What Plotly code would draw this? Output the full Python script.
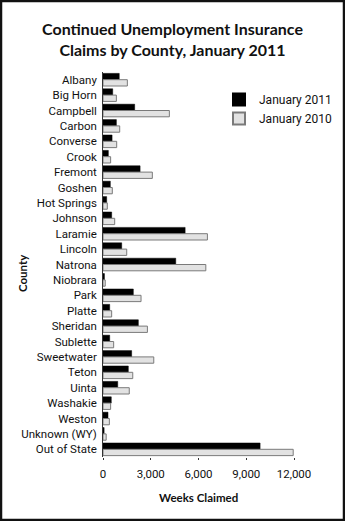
import plotly.graph_objects as go

counties = ["Albany", "Big Horn", "Campbell", "Carbon", "Converse", "Crook", "Fremont",
            "Goshen", "Hot Springs", "Johnson", "Laramie", "Lincoln", "Natrona", "Niobrara",
            "Park", "Platte", "Sheridan", "Sublette", "Sweetwater", "Teton", "Uinta",
            "Washakie", "Weston", "Unknown (WY)", "Out of State"]
jan_2011 = [1020, 610, 1990, 840, 570, 335, 2330, 460, 230, 545, 5160, 1175, 4570, 90,
            1905, 420, 2220, 420, 1800, 1590, 925, 520, 315, 70, 9870]
jan_2010 = [1530, 840, 4170, 1050, 860, 480, 3100, 585, 270, 735, 6560, 1490, 6460, 140,
            2390, 545, 2790, 670, 3190, 1870, 1650, 480, 400, 200, 11950]
x_ticks = [0, 3000, 6000, 9000, 12000]
x_tick_text = ["0", "3,000", "6,000", "9,000", "12,000"]

W, H = 345, 521
ml, mr, mt, mb = 103, 51, 72, 64
pw, ph = W - ml - mr, H - mt - mb

fig = go.Figure()
fig.add_trace(go.Bar(y=counties, x=jan_2011, orientation="h", name="January 2011",
                     marker=dict(color="#000000", line=dict(color="#000000", width=0.5))))
fig.add_trace(go.Bar(y=counties, x=jan_2010, orientation="h", name="January 2010",
                     marker=dict(color="#e2e2e2", line=dict(color="#7a7a7a", width=1))))

font_fam = "Roboto, 'Open Sans', sans-serif"
title_fam = "Lato, 'Open Sans', sans-serif"

def px_x(p):
    return (p - ml) / pw

def px_y(p):
    return 1 - (p - mt) / ph

fig.update_layout(
    width=W, height=H,
    margin=dict(l=ml, r=mr, t=mt, b=mb, pad=0, autoexpand=False),
    paper_bgcolor="white", plot_bgcolor="white",
    barmode="group", bargap=0.18, bargroupgap=0.0,
    showlegend=True,
    legend=dict(x=px_x(219), y=px_y(85), xanchor="left", yanchor="top",
                font=dict(family=font_fam, size=12, color="#111"),
                bgcolor="rgba(0,0,0,0)", tracegroupgap=2, itemsizing="constant"),
    title=dict(text="Continued Unemployment Insurance<br>Claims by County, January 2011",
               x=0.5, xref="container", xanchor="center", y=1 - 35 / H, yanchor="middle",
               font=dict(family=title_fam, size=16, color="#111", weight="bold")),
    font=dict(family=font_fam, size=12, color="#111"),
    xaxis=dict(range=[0, 12000], tickvals=x_ticks, ticktext=x_tick_text,
               automargin=False,
               showgrid=False, zeroline=False, showline=False,
               ticks="outside", ticklen=2, tickcolor="#333", ticklabelstandoff=4,
               tickfont=dict(family=font_fam, size=11.5, color="#111")),
    yaxis=dict(autorange="reversed", showgrid=False, zeroline=False, automargin=False,
               showline=True, linecolor="#333", linewidth=1, ticks="",
               ticksuffix=" ",
               tickfont=dict(family=font_fam, size=11.5, color="#111")),
    annotations=[
        dict(text="Weeks Claimed", xref="paper", yref="paper", x=0.5, y=px_y(497),
             xanchor="center", yanchor="middle", showarrow=False,
             font=dict(family=title_fam, size=11.5, color="#111", weight="bold")),
        dict(text="County", xref="paper", yref="paper", x=px_x(22), y=px_y(273),
             xanchor="center", yanchor="middle", showarrow=False, textangle=-90,
             font=dict(family=title_fam, size=11.5, color="#111", weight="bold")),
    ],
)

# outer frame around the whole image
fig.add_shape(type="rect", xref="paper", yref="paper",
              x0=px_x(1), x1=px_x(W - 1), y0=px_y(H - 1), y1=px_y(1),
              line=dict(color="#111", width=2.5), fillcolor="rgba(0,0,0,0)", layer="above")

fig.write_html("out.html")
